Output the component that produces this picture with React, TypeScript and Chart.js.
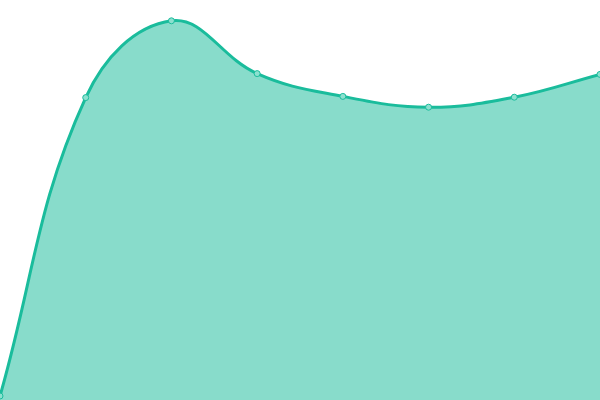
import React, { useEffect, useRef } from "react";
import { Chart, registerables } from "chart.js";

Chart.register(...registerables);

const categories = ["A", "B", "C", "D", "E", "F", "G", "H"];
const values = [1, 75.6, 94.8, 81.6, 75.9, 73.2, 75.7, 81.4];

export default function App() {
  const ref = useRef<HTMLCanvasElement>(null);
  useEffect(() => {
    document.body.style.margin = "0";
    const chart = new Chart(ref.current!, {
      type: "line",
      data: {
        labels: categories,
        datasets: [
          {
            data: values,
            borderColor: "#1abc9c",
            backgroundColor: "rgba(26,188,156,0.52)",
            borderWidth: 3,
            fill: true,
            tension: 0.4,
            pointRadius: 3,
            pointBorderWidth: 1,
            pointBackgroundColor: "#8ce0cf",
            pointBorderColor: "#1abc9c",
          },
        ],
      },
      options: {
        animation: false,
        responsive: false,
        maintainAspectRatio: false,
        layout: { padding: 0, autoPadding: false },
        plugins: { legend: { display: false }, tooltip: { enabled: false } },
        scales: {
          x: { display: false },
          y: { display: false, min: 0, max: 100 },
        },
      },
    });
    return () => chart.destroy();
  }, []);
  return (
    <div style={{ position: "absolute", left: 0, top: 0, width: 600, height: 400 }}>
      <canvas ref={ref} width={600} height={400} style={{ width: 600, height: 400 }} />
    </div>
  );
}
